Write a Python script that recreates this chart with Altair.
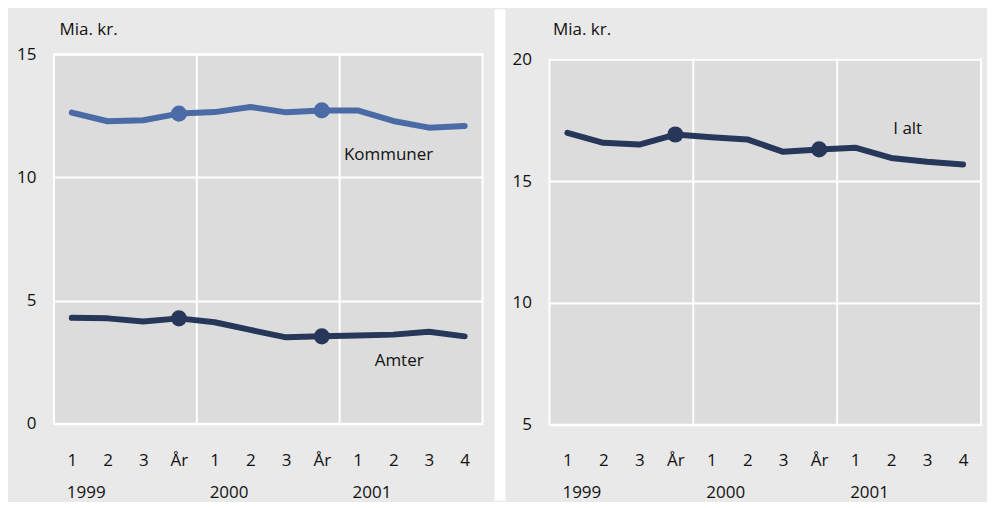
import json
import altair as alt
import pandas as pd

# ---------------- data ----------------
quarters = ["1", "2", "3", "År", "1", "2", "3", "År", "1", "2", "3", "4"]
years = ["1999", "2000", "2001"]
year_start_index = [0, 4, 8]
year_boundaries = [3.5, 7.5]

kommuner = [12.63, 12.28, 12.32, 12.59, 12.65, 12.86, 12.64, 12.72, 12.72, 12.29, 12.02, 12.09]
amter = [4.30, 4.28, 4.15, 4.28, 4.12, 3.81, 3.51, 3.55, 3.58, 3.62, 3.74, 3.55]
i_alt = [16.98, 16.57, 16.50, 16.91, 16.80, 16.71, 16.20, 16.30, 16.37, 15.95, 15.79, 15.68]

left_ticks = [0, 5, 10, 15]
right_ticks = [5, 10, 15, 20]

left_labels = ["Kommuner", "Amter"]
left_label_x = [7.62, 8.48]
left_label_y = [10.70, 2.36]
right_labels = ["I alt"]
right_label_x = [9.06]
right_label_y = [16.93]

# ---------------- style ----------------
BG = "#e9e9e9"
PLOT = "#dcdcdc"
BLUE = "#4a6ba6"
NAVY = "#26375a"
TEXT = "#111111"
FONT = "Open Sans"
FS = 17

idx = list(range(len(quarters)))
label_expr = json.dumps(quarters, ensure_ascii=False) + "[datum.value]"


def panel(df, series_domain, series_range, ticks, width, height, top_gap, lab_df,
          bounds, white_rect, title_x, title_y, x_pad, year_y):
    xs = alt.Scale(domain=[-0.5, 11.5], nice=False, zero=False)
    ys = alt.Scale(domain=[ticks[0], ticks[-1]], range=[height, top_gap], nice=False, zero=False)
    x_axis = alt.Axis(values=idx, labelExpr=label_expr, title=None, grid=False,
                      domain=False, ticks=False, tickSize=0, labelPadding=x_pad,
                      labelBaseline="alphabetic", labelFlush=False, labelOverlap=False,
                      labelFontSize=FS, labelColor=TEXT, labelFont=FONT)
    y_axis = alt.Axis(values=ticks, title="Mia. kr.", titleAngle=0, titleAlign="left",
                      titleBaseline="alphabetic", titleX=title_x, titleY=title_y,
                      titleFontWeight="normal", titleFontSize=FS, titleColor=TEXT,
                      titleFont=FONT, grid=True, gridColor="white", gridWidth=2,
                      domain=False, ticks=False, tickSize=0, labelPadding=18,
                      labelBaseline="middle", labelFontSize=FS, labelColor=TEXT,
                      labelFont=FONT, labelFlush=False, labelOverlap=False)
    X = alt.X("i:Q", scale=xs, axis=x_axis)
    Y = alt.Y("value:Q", scale=ys, axis=y_axis)
    color = alt.Color("series:N", scale=alt.Scale(domain=series_domain, range=series_range), legend=None)

    one = alt.Data(values=[{"k": 1}])
    bx1, bx2, by1, by2 = bounds
    layers = [
        alt.Chart(one).mark_rect(opacity=0).encode(
            x=alt.value(bx1), x2=alt.value(bx2), y=alt.value(by1), y2=alt.value(by2)),
    ]
    if white_rect is not None:
        layers.append(alt.Chart(one).mark_rect(color="white").encode(
            x=alt.value(white_rect[0]), x2=alt.value(white_rect[1]),
            y=alt.value(by1), y2=alt.value(by2)))

    rules = alt.Chart(pd.DataFrame({"i": year_boundaries})).mark_rule(
        color="white", strokeWidth=2).encode(x=X)
    layers.append(rules)
    if top_gap > 0:
        # background-coloured strip above the top gridline
        layers.append(alt.Chart(one).mark_rect(color=BG).encode(
            x=alt.value(-2), x2=alt.value(width + 2), y=alt.value(-2), y2=alt.value(top_gap - 1)))
    lines = alt.Chart(df).mark_line(strokeWidth=6, strokeCap="round", strokeJoin="round").encode(
        x=X, y=Y, color=color, detail="series:N")
    points = alt.Chart(df).transform_filter("datum.q == 'År'").mark_circle(
        size=260, opacity=1).encode(x=X, y=Y, color=color)
    labels = alt.Chart(lab_df).mark_text(align="left", baseline="alphabetic", fontSize=FS,
                                         font=FONT, color=TEXT).encode(x=X, y=Y, text="label:N")
    year_df = pd.DataFrame({"i": year_start_index, "year": years})
    year_text = alt.Chart(year_df).mark_text(align="left", baseline="alphabetic", dx=-5,
                                             fontSize=FS, font=FONT, color=TEXT).encode(
        x=X, y=alt.value(year_y), text="year:N")
    layers += [lines, points, labels, year_text]
    return alt.layer(*layers).properties(width=width, height=height)


df_left = pd.DataFrame({
    "i": idx * 2,
    "q": quarters * 2,
    "value": kommuner + amter,
    "series": ["Kommuner"] * len(idx) + ["Amter"] * len(idx),
})
df_right = pd.DataFrame({"i": idx, "q": quarters, "value": i_alt, "series": ["I alt"] * len(idx)})

lab_left = pd.DataFrame({"i": left_label_x, "value": left_label_y, "label": left_labels})
lab_right = pd.DataFrame({"i": right_label_x, "value": right_label_y, "label": right_labels})

left = panel(df_left, ["Kommuner", "Amter"], [BLUE, NAVY], left_ticks, 429, 370, 0, lab_left,
             bounds=(-45, 440, -45, 447), white_rect=None,
             title_x=5, title_y=-20, x_pad=42, year_y=444)
right = panel(df_right, ["I alt"], [NAVY], right_ticks, 432, 371, 5, lab_right,
              bounds=(-55, 437, -45, 447), white_rect=(-55, -44),
              title_x=3, title_y=-20, x_pad=41, year_y=444)

chart = alt.hconcat(left, right, spacing=67, bounds="flush").resolve_scale(
    color="independent"
).properties(
    padding=0, background=BG
).configure_view(fill=PLOT, stroke="white", strokeWidth=2)

chart.save("out.html", embed_options={"renderer": "svg", "actions": False})
